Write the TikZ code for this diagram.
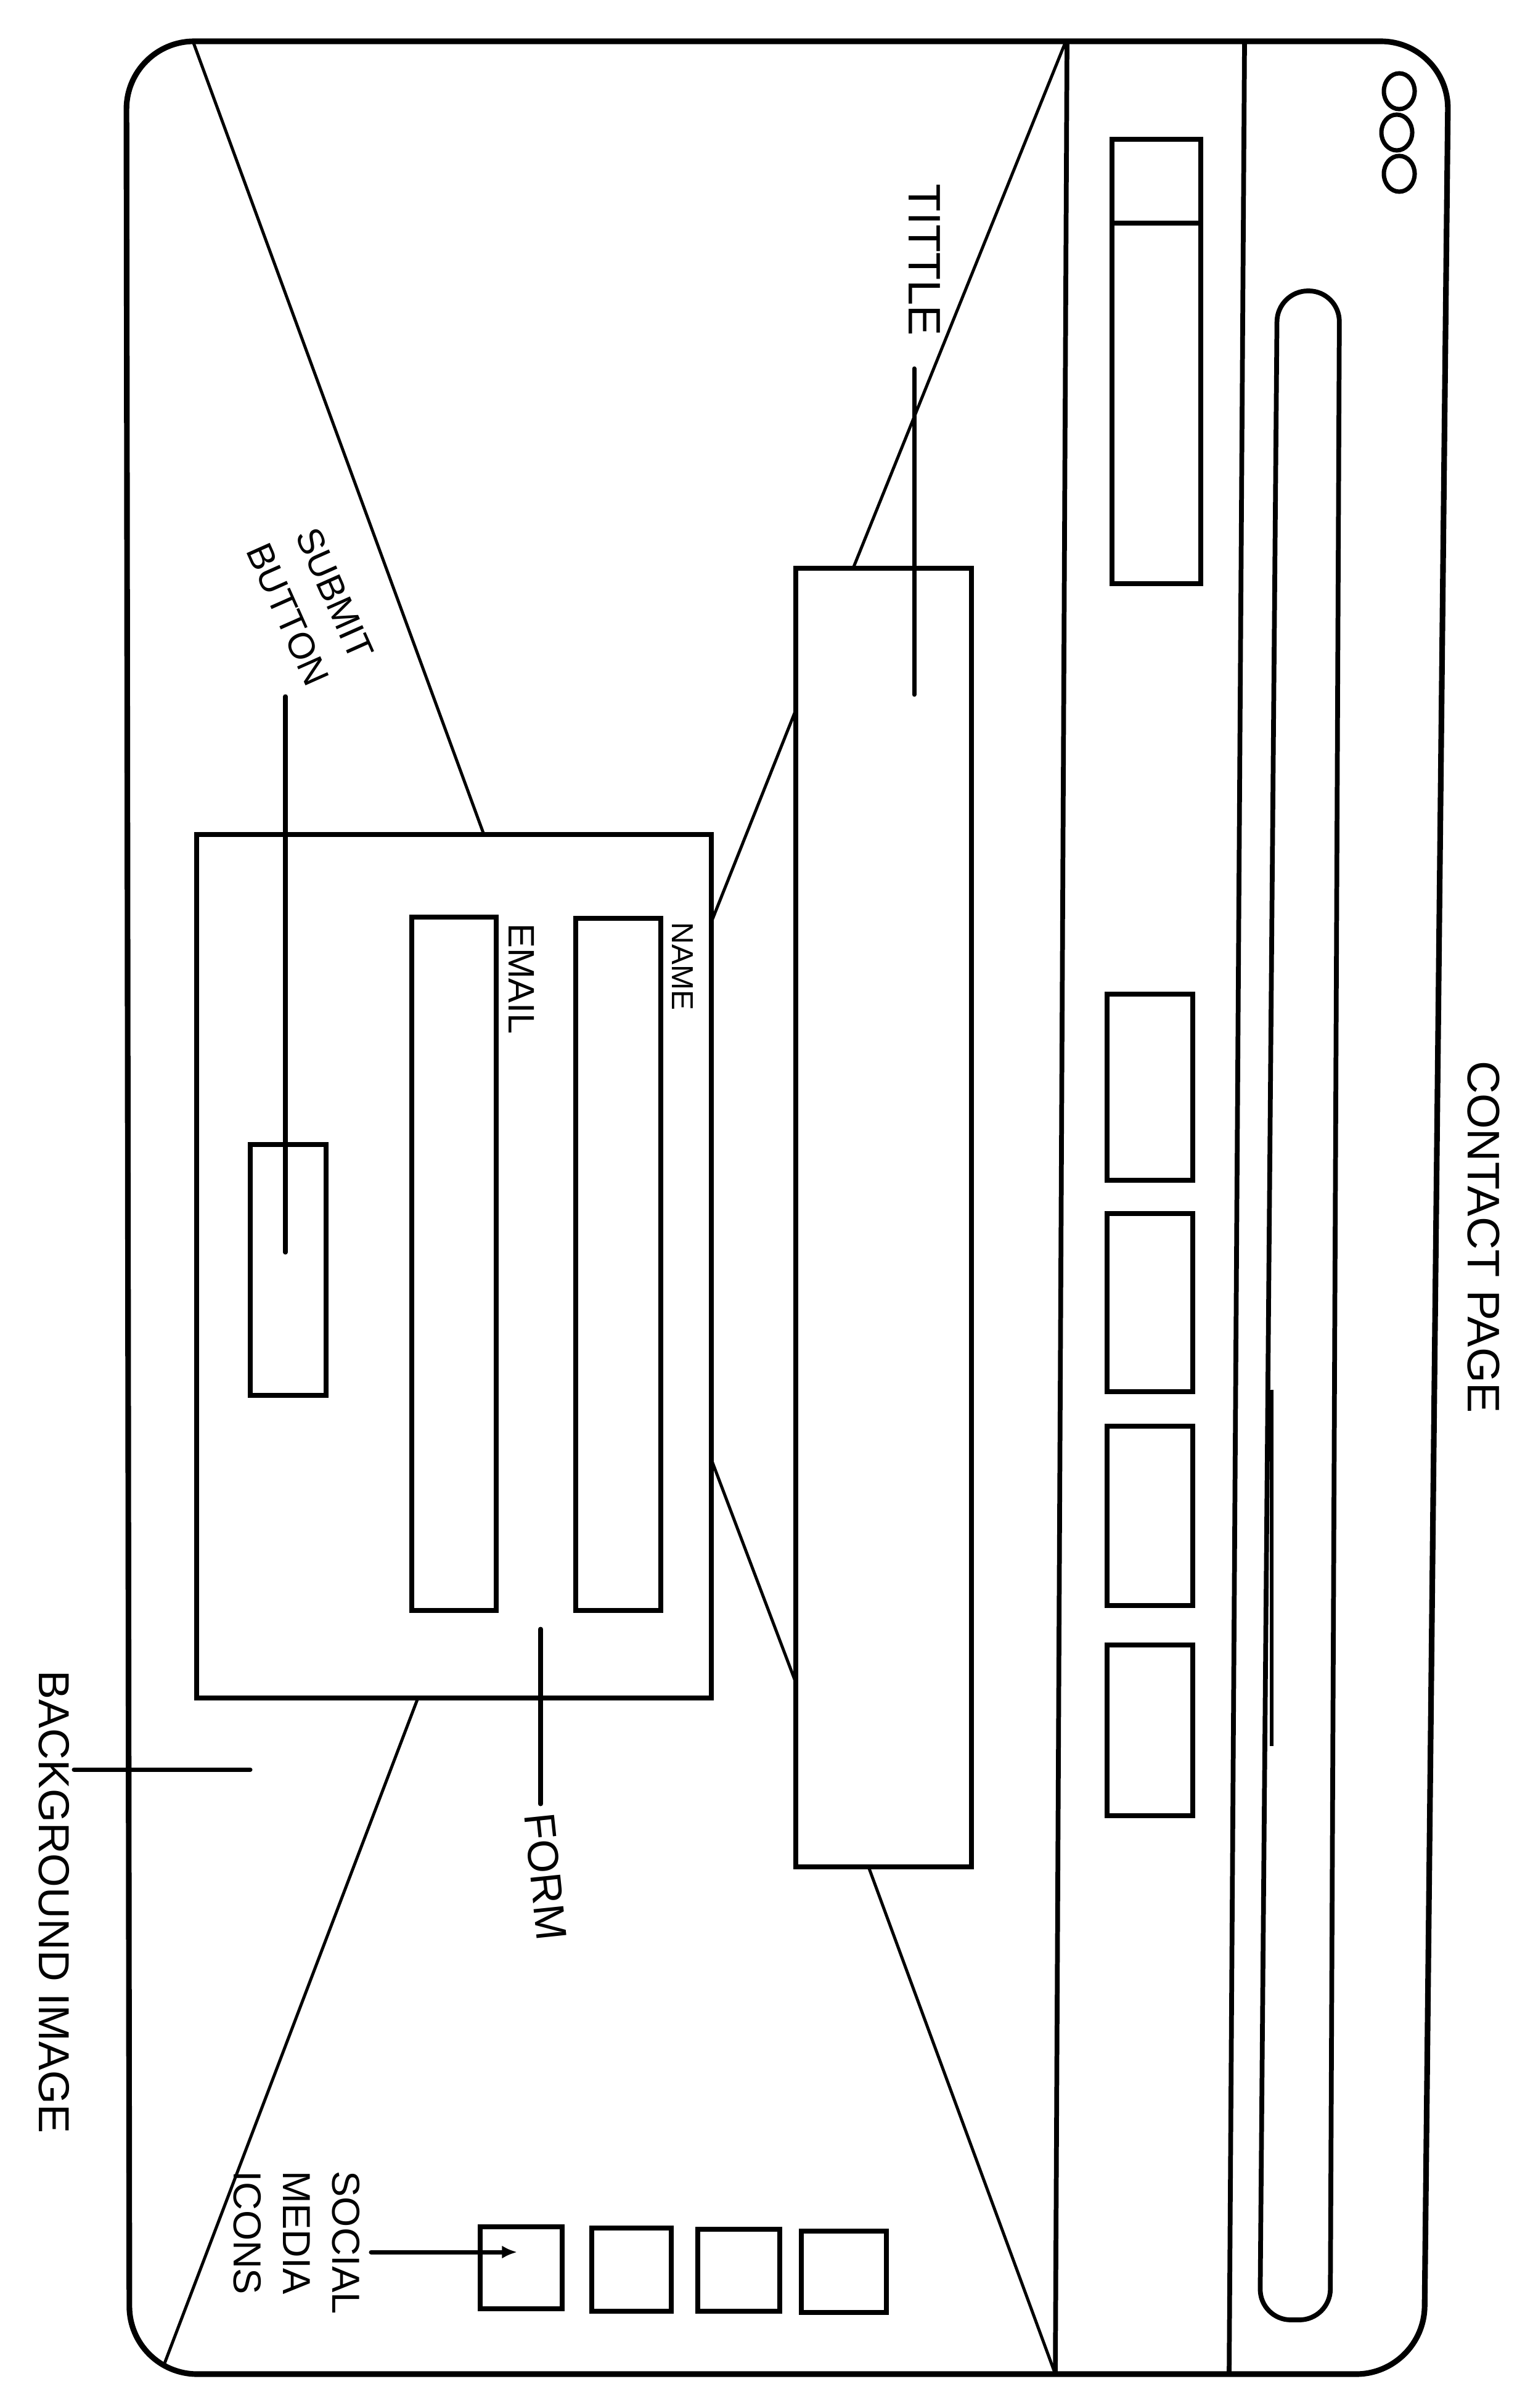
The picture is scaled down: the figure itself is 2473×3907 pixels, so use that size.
\documentclass[tikz,border=0pt]{standalone}
\usepackage{fontspec}
\setmainfont{Liberation Sans}
\usetikzlibrary{fit,arrows.meta,shapes.geometric}
\begin{document}
\begin{tikzpicture}[x=0.01cm,y=-0.01cm,
  box/.style={draw,line width=2.1pt,inner sep=0pt,outer sep=0pt},
  winframe/.style={line width=2.6pt,line join=round,line cap=round,rounded corners=1.1cm},
  bar/.style={line width=2.2pt,line cap=round},
  guide/.style={line width=1.4pt,line cap=round},
  leader/.style={line width=2pt,line cap=round},
  dot/.style={draw,ellipse,line width=2pt,inner sep=0pt,minimum width=0.5cm,minimum height=0.58cm},
  lbl/.style={inner sep=0pt,font=\fontsize{#1}{1.2\dimexpr#1\relax}\selectfont},
  lbl/.default=20pt
]
\useasboundingbox (0,0) rectangle (2473,3907);

% browser window outline
\draw[winframe] (205,67) -- (2350,67) -- (2310,3852) -- (210,3852) -- cycle;
% toolbar separators
\coordinate (n1t) at (1731,67);  \coordinate (n1b) at (1712,3852);
\coordinate (n2t) at (2019,67);  \coordinate (n2b) at (1994,3852);
\draw[bar] (n1t) -- (n1b);
\draw[bar] (n2t) -- (n2b);

% window buttons
\node[dot] (c1) at (2270,148) {};
\node[dot] (c2) at (2266,215) {};
\node[dot] (c3) at (2270,282) {};

% address bar
\draw[line width=2.2pt,rounded corners=0.5cm] (2072,472) -- (2173,472) -- (2158,3764) -- (2044,3764) -- cycle;
\coordinate (ab1) at (2063,2255); \coordinate (ab2) at (2063,2833);
\draw[line width=1.6pt] (ab1) -- (ab2);

% logo
\node[box,fit={(1804,226) (1948,947)}] (logo) {};
\draw[line width=2pt] (logo.north west |- 0,362) -- (logo.north east |- 0,362);

% navigation items
\node[box,fit={(1796,1613) (1935,1915)}] (nav1) {};
\node[box,fit={(1796,1969) (1935,2258)}] (nav2) {};
\node[box,fit={(1796,2314) (1935,2605)}] (nav3) {};
\node[box,fit={(1796,2669) (1935,2946)}] (nav4) {};

% title and form
\node[box,fit={(1291,922) (1576,3029)}] (title) {};
\node[box,fit={(319,1354) (1154,2755)}] (form) {};
\node[box,fit={(934,1490) (1072,2613)}] (namefield) {};
\node[box,fit={(668,1488) (805,2613)}] (emailfield) {};
\node[box,fit={(406,1857) (529,2264)}] (submit) {};

% social media icons
\node[box,fit={(779,3613) (912,3746)}] (s1) {};
\node[box,fit={(960,3615) (1089,3750)}] (s2) {};
\node[box,fit={(1132,3617) (1265,3750)}] (s3) {};
\node[box,fit={(1300,3620) (1438,3752)}] (s4) {};

% background image cross
\coordinate (d1a) at (313,67);   \coordinate (d1b) at (785,1354);
\coordinate (d2a) at (1727,72);  \coordinate (d2b) at (1384,922);
\coordinate (d3a) at (1291,1152);\coordinate (d3b) at (1154,1496);
\coordinate (d4a) at (1154,2368);\coordinate (d4b) at (1291,2730);
\coordinate (d5a) at (678,2755); \coordinate (d5b) at (266,3837);
\coordinate (d6a) at (1409,3029);\coordinate (d6b) at (1712,3852);
\draw[guide] (d1a) -- (d1b);
\draw[guide] (d2a) -- (d2b);
\draw[guide] (d3a) -- (d3b);
\draw[guide] (d4a) -- (d4b);
\draw[guide] (d5a) -- (d5b);
\draw[guide] (d6a) -- (d6b);

% annotation leaders
\coordinate (tl1) at (1483,598);  \coordinate (tl2) at (1483,1127);
\coordinate (sl1) at (463,1130);  \coordinate (sl2) at (463,2032);
\coordinate (fl1) at (877,2643);  \coordinate (fl2) at (877,2927);
\coordinate (bl1) at (120,2871);  \coordinate (bl2) at (406,2871);
\coordinate (ml1) at (602,3654);  \coordinate (ml2) at (839,3654);
\draw[leader] (tl1) -- (tl2);
\draw[leader] (sl1) -- (sl2);
\draw[leader] (fl1) -- (fl2);
\draw[leader] (bl1) -- (bl2);
\draw[leader,-{Latex[length=7pt,width=6pt]}] (ml1) -- (ml2);

% labels
\node[lbl=21pt,rotate=-90] (tcontact) at (2407,2007) {CONTACT PAGE};
\node[lbl=21pt,rotate=-90] (ttitle) at (1500,422) {TITTLE};
\node[lbl=14pt,rotate=-90] (tname) at (1107,1568) {NAME};
\node[lbl=17pt,rotate=-90] (temail) at (846,1588) {EMAIL};
\node[inner sep=0pt,rotate=-66,align=center,
      font=\fontsize{17pt}{23.5pt}\selectfont] (tsubmit) at (505,980) {SUBMIT\\BUTTON};
\node[lbl=20pt,rotate=-84] (tform) at (885,3045) {FORM};
\node[lbl=20pt,rotate=-90] (tbg) at (88,3086) {BACKGROUND IMAGE};
\node[inner sep=0pt,rotate=-90,align=left,anchor=west,
      font=\fontsize{18pt}{22.7pt}\selectfont] (tsocial) at (481,3522) {SOCIAL\\MEDIA\\ICONS};
\end{tikzpicture}
\end{document}
